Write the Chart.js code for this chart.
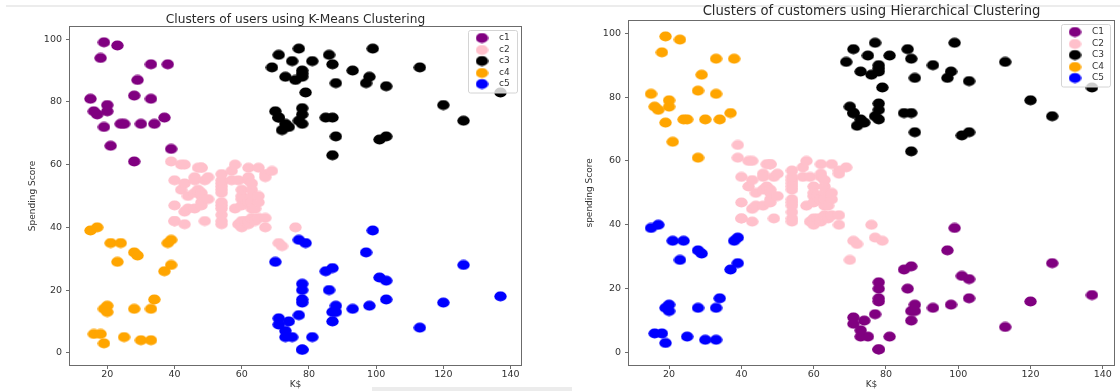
<!DOCTYPE html>
<html>
<head>
<meta charset="utf-8">
<script src="https://cdn.jsdelivr.net/npm/chart.js@4.4.1/dist/chart.umd.min.js"></script>
<style>
  html, body { margin: 0; padding: 0; background: #fff; }
  #wrap { position: relative; width: 1120px; height: 391px; overflow: hidden; }
  .pane { position: absolute; top: 0; width: 560px; height: 391px; }
  .rule { position: absolute; background: #ececec; }
</style>
</head>
<body>
<div id="wrap">
  <div class="rule" style="left:6px; top:5px; width:1114px; height:2px"></div>
  <div class="rule" style="left:372px; top:387px; width:200px; height:4px"></div>
  <div class="pane" style="left:0"><canvas id="kmeans" width="560" height="391"></canvas></div>
  <div class="pane" style="left:560px"><canvas id="hier" width="560" height="391"></canvas></div>
</div>
<script>
// Annual income (k$) and spending score, one entry per customer
const income = [
  15,15,16,16,17,17,18,18,19,19, 19,19,20,20,20,20,21,21,23,23,
  24,24,25,25,28,28,28,28,29,29, 30,30,33,33,33,33,34,34,37,37,
  38,38,39,39,39,39,40,40,40,40, 42,42,43,43,43,43,44,44,46,46,
  46,46,47,47,48,48,48,48,48,48, 49,49,50,50,54,54,54,54,54,54,
  54,54,54,54,54,54,57,57,58,58, 59,59,60,60,60,60,60,60,61,61,
  62,62,62,62,62,62,63,63,63,63, 63,63,64,64,65,65,65,65,67,67,
  67,67,69,69,70,70,71,71,71,71, 71,71,72,72,73,73,73,73,74,74,
  75,75,76,76,77,77,77,77,78,78, 78,78,78,78,78,78,78,78,78,78,
  79,79,81,81,85,85,86,86,87,87, 87,87,87,87,88,88,88,88,93,93,
  97,97,98,98,99,99,101,101,103,103, 103,103,113,113,120,120,126,126,137,137
];
const score = [
  39,81,6,77,40,76,6,94,3,72, 14,99,15,77,13,79,35,66,29,98,
  35,73,5,73,14,82,32,61,31,87, 4,73,4,92,14,81,17,73,26,75,
  35,92,36,61,28,65,55,47,42,42, 52,60,54,60,45,41,50,46,51,46,
  56,55,52,59,51,59,50,48,59,47, 55,42,49,56,47,54,53,48,52,42,
  51,55,41,44,57,46,58,55,60,46, 55,41,49,40,42,52,47,50,42,49,
  41,48,59,55,56,42,50,46,43,48, 52,54,42,46,48,50,43,59,43,57,
  56,40,58,91,29,77,35,95,11,75, 9,75,34,71,5,88,7,73,10,72,
  5,93,40,87,12,97,36,74,22,90, 17,88,20,76,16,89,1,78,1,73,
  35,83,5,93,26,75,20,95,27,63, 13,75,10,92,13,86,15,69,14,90,
  32,86,15,88,39,97,24,68,17,85, 23,69,8,91,16,79,28,74,18,83
];

// Cluster index of each customer (0..4)
const kmeansLabels = [
  3,0,3,0,3,0,3,0,3,0, 3,0,3,0,3,0,3,0,3,0,
  3,0,3,0,3,0,3,0,3,0, 3,0,3,0,3,0,3,0,3,0,
  3,0,3,1,3,0,1,1,1,1, 1,1,1,1,1,1,1,1,1,1,
  1,1,1,1,1,1,1,1,1,1, 1,1,1,1,1,1,1,1,1,1,
  1,1,1,1,1,1,1,1,1,1, 1,1,1,1,1,1,1,1,1,1,
  1,1,1,1,1,1,1,1,1,1, 1,1,1,1,1,1,1,1,1,1,
  1,1,1,2,4,2,1,2,4,2, 4,2,1,2,4,2,4,2,4,2,
  4,2,1,2,4,2,4,2,4,2, 4,2,4,2,4,2,4,2,4,2,
  4,2,4,2,4,2,4,2,4,2, 4,2,4,2,4,2,4,2,4,2,
  4,2,4,2,4,2,4,2,4,2, 4,2,4,2,4,2,4,2,4,2
];
const hierLabels = [
  4,3,4,3,4,3,4,3,4,3, 4,3,4,3,4,3,4,3,4,3,
  4,3,4,3,4,3,4,3,4,3, 4,3,4,3,4,3,4,3,4,3,
  4,3,4,1,4,1,1,1,1,1, 1,1,1,1,1,1,1,1,1,1,
  1,1,1,1,1,1,1,1,1,1, 1,1,1,1,1,1,1,1,1,1,
  1,1,1,1,1,1,1,1,1,1, 1,1,1,1,1,1,1,1,1,1,
  1,1,1,1,1,1,1,1,1,1, 1,1,1,1,1,1,1,1,1,1,
  1,1,1,2,1,2,1,2,0,2, 0,2,1,2,0,2,0,2,0,2,
  0,2,1,2,0,2,1,2,0,2, 0,2,0,2,0,2,0,2,0,2,
  1,2,0,2,0,2,0,2,0,2, 0,2,0,2,0,2,0,2,0,2,
  0,2,0,2,0,2,0,2,0,2, 0,2,0,2,0,2,0,2,0,2
];

const clusterColors = ['purple', 'pink', 'black', 'orange', 'blue'];
const kmeansNames = ['c1', 'c2', 'c3', 'c4', 'c5'];
const hierNames = ['C1', 'C2', 'C3', 'C4', 'C5'];

const xTicks = [20, 40, 60, 80, 100, 120, 140];
const yTicks = [0, 20, 40, 60, 80, 100];
const xMin = 8.9, xMax = 143.1;
const yMin = -3.9, yMax = 103.9;

const FONT = 'DejaVu Sans';
const frameColor = '#6b6b6b';
const textColor = '#333';

// The source picture is stretched sideways, so the dots are slightly oval
const ovalDot = (color) => {
    const c = document.createElement('canvas');
    c.width = 13;
    c.height = 11;
    const g = c.getContext('2d');
    g.fillStyle = color;
    g.beginPath();
    g.ellipse(6.5, 5.5, 6.2, 5.1, 0, 0, Math.PI * 2);
    g.fill();
    return c;
};
const dots = clusterColors.map(ovalDot);

// Box round the plot area, like matplotlib spines
const framePlugin = {
    id: 'frame',
    afterDatasetsDraw(chart) {
        const { ctx, chartArea: a } = chart;
        ctx.save();
        ctx.strokeStyle = frameColor;
        ctx.lineWidth = 1;
        ctx.strokeRect(Math.round(a.left) - 0.5, Math.round(a.top) - 0.5,
            Math.round(a.right - a.left) + 1, Math.round(a.bottom - a.top) + 1);
        ctx.restore();
    },
};

// Legend drawn inside the upper right corner of the plot
const insideLegend = {
    id: 'insideLegend',
    afterDatasetsDraw(chart, args, o) {
        const { ctx, chartArea } = chart;
        const sets = chart.data.datasets;
        const h = o.rowHeight * sets.length + o.pad * 2;
        const x = Math.round(chartArea.right - o.right - o.width);
        const y = Math.round(chartArea.top + o.top);
        ctx.save();
        ctx.beginPath();
        ctx.roundRect(x + 0.5, y + 0.5, o.width, h, 2);
        ctx.fillStyle = 'rgba(255,255,255,0.8)';
        ctx.fill();
        ctx.strokeStyle = '#d4d4d4';
        ctx.lineWidth = 1;
        ctx.stroke();
        ctx.font = `9px "${FONT}"`;
        ctx.textBaseline = 'middle';
        sets.forEach((ds, i) => {
            const cy = Math.round(y + o.pad + o.rowHeight * (i + 0.5));
            const dot = ds.pointStyle;
            ctx.drawImage(dot, x + o.markerX - dot.width / 2, cy - dot.height / 2);
            ctx.fillStyle = textColor;
            ctx.fillText(ds.label, x + o.textX, cy);
        });
        ctx.restore();
    },
};

const makeDatasets = (labels, names) => names.map((name, k) => ({
    label: name,
    data: income
        .map((x, i) => ({ x, y: score[i] }))
        .filter((_, i) => labels[i] === k),
    backgroundColor: clusterColors[k],
    borderColor: clusterColors[k],
    borderWidth: 0,
    pointStyle: dots[k],
    pointRadius: 6,
    pointHoverRadius: 6,
    order: names.length - k,
}));

const tickFont = { family: FONT, size: 9.5 };
const labelFont = { family: FONT, size: 9 };

function buildChart(id, cfg) {
    return new Chart(document.getElementById(id), {
        type: 'scatter',
        data: { datasets: makeDatasets(cfg.labels, cfg.names) },
        options: {
            responsive: false,
            animation: false,
            events: [],
            layout: { padding: { left: 0, right: cfg.padRight, top: 0, bottom: 0 } },
            plugins: {
                legend: { display: false },
                tooltip: { enabled: false },
                title: {
                    display: true,
                    text: cfg.title,
                    fullSize: false,
                    color: '#2a2a2a',
                    font: { family: FONT, size: cfg.titleSize, weight: 'normal' },
                    padding: { top: cfg.titleTop, bottom: cfg.titleBottom },
                },
                insideLegend: { width: 49, right: 4, top: 3, pad: 2.5, rowHeight: 11.5, markerX: 14, textX: 31 },
            },
            scales: {
                x: {
                    type: 'linear',
                    min: xMin,
                    max: xMax,
                    afterBuildTicks: (s) => { s.ticks = xTicks.map((v) => ({ value: v })); },
                    afterFit: (s) => { s.height = 26; },
                    grid: { drawOnChartArea: false, drawTicks: true, tickLength: 4, color: frameColor },
                    border: { display: false },
                    ticks: { color: textColor, font: tickFont, padding: 0, maxRotation: 0 },
                    title: { display: true, text: 'K$', color: textColor, font: labelFont, padding: { top: 0, bottom: 1 } },
                },
                y: {
                    type: 'linear',
                    min: yMin,
                    max: yMax,
                    afterBuildTicks: (s) => { s.ticks = yTicks.map((v) => ({ value: v })); },
                    afterFit: (s) => { s.width = cfg.yWidth; },
                    grid: { drawOnChartArea: false, drawTicks: true, tickLength: 4, color: frameColor },
                    border: { display: false },
                    ticks: { color: textColor, font: tickFont, padding: 4 },
                    title: { display: true, text: cfg.yTitle, color: textColor, font: labelFont, padding: { top: cfg.yTitlePad, bottom: 0 } },
                },
            },
        },
        plugins: [framePlugin, insideLegend],
    });
}

buildChart('kmeans', {
    labels: kmeansLabels,
    names: kmeansNames,
    title: 'Clusters of users using K-Means Clustering',
    yTitle: 'Spending Score',
    titleSize: 12.2, titleTop: 12.3, titleBottom: 0,
    padRight: 39, yWidth: 70, yTitlePad: 27.6,
});

buildChart('hier', {
    labels: hierLabels,
    names: hierNames,
    title: 'Clusters of customers using Hierarchical Clustering',
    yTitle: 'spending Score',
    titleSize: 13.2, titleTop: 4.1, titleBottom: 0.8,
    padRight: 3, yWidth: 69, yTitlePad: 24,
});
</script>
</body>
</html>
